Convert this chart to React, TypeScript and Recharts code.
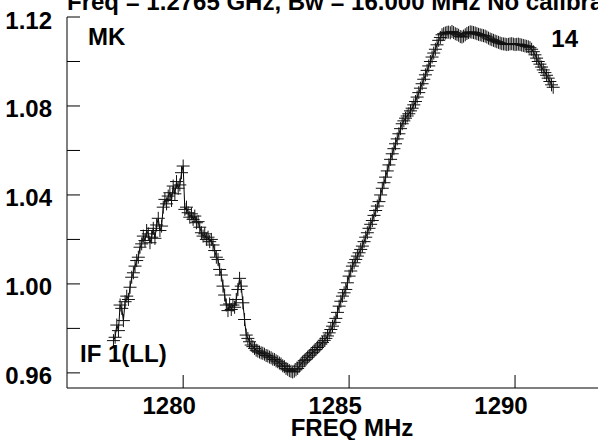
import { LineChart, Line, XAxis, YAxis } from "recharts";

// channel frequencies (MHz)
const FREQ = [
  1277.9, 1277.95, 1278.0, 1278.05, 1278.1, 1278.15, 1278.2, 1278.25, 1278.3, 1278.35, 1278.4, 1278.45, 1278.5, 1278.55, 1278.6, 1278.65, 1278.7, 1278.75, 1278.8, 1278.85,
  1278.9, 1278.95, 1279.0, 1279.05, 1279.1, 1279.15, 1279.2, 1279.25, 1279.3, 1279.35, 1279.4, 1279.45, 1279.5, 1279.55, 1279.6, 1279.65, 1279.7, 1279.75, 1279.8, 1279.85,
  1279.9, 1279.95, 1280.0, 1280.05, 1280.1, 1280.15, 1280.2, 1280.25, 1280.3, 1280.35, 1280.4, 1280.45, 1280.5, 1280.55, 1280.6, 1280.65, 1280.7, 1280.75, 1280.8, 1280.85,
  1280.9, 1280.95, 1281.0, 1281.05, 1281.1, 1281.15, 1281.2, 1281.25, 1281.3, 1281.35, 1281.4, 1281.45, 1281.5, 1281.55, 1281.6, 1281.65, 1281.7, 1281.75, 1281.8, 1281.85,
  1281.9, 1281.95, 1282.0, 1282.05, 1282.1, 1282.15, 1282.2, 1282.25, 1282.3, 1282.35, 1282.4, 1282.45, 1282.5, 1282.55, 1282.6, 1282.65, 1282.7, 1282.75, 1282.8, 1282.85,
  1282.9, 1282.95, 1283.0, 1283.05, 1283.1, 1283.15, 1283.2, 1283.25, 1283.3, 1283.35, 1283.4, 1283.45, 1283.5, 1283.55, 1283.6, 1283.65, 1283.7, 1283.75, 1283.8, 1283.85,
  1283.9, 1283.95, 1284.0, 1284.05, 1284.1, 1284.15, 1284.2, 1284.25, 1284.3, 1284.35, 1284.4, 1284.45, 1284.5, 1284.55, 1284.6, 1284.65, 1284.7, 1284.75, 1284.8, 1284.85,
  1284.9, 1284.95, 1285.0, 1285.05, 1285.1, 1285.15, 1285.2, 1285.25, 1285.3, 1285.35, 1285.4, 1285.45, 1285.5, 1285.55, 1285.6, 1285.65, 1285.7, 1285.75, 1285.8, 1285.85,
  1285.9, 1285.95, 1286.0, 1286.05, 1286.1, 1286.15, 1286.2, 1286.25, 1286.3, 1286.35, 1286.4, 1286.45, 1286.5, 1286.55, 1286.6, 1286.65, 1286.7, 1286.75, 1286.8, 1286.85,
  1286.9, 1286.95, 1287.0, 1287.05, 1287.1, 1287.15, 1287.2, 1287.25, 1287.3, 1287.35, 1287.4, 1287.45, 1287.5, 1287.55, 1287.6, 1287.65, 1287.7, 1287.75, 1287.8, 1287.85,
  1287.9, 1287.95, 1288.0, 1288.05, 1288.1, 1288.15, 1288.2, 1288.25, 1288.3, 1288.35, 1288.4, 1288.45, 1288.5, 1288.55, 1288.6, 1288.65, 1288.7, 1288.75, 1288.8, 1288.85,
  1288.9, 1288.95, 1289.0, 1289.05, 1289.1, 1289.15, 1289.2, 1289.25, 1289.3, 1289.35, 1289.4, 1289.45, 1289.5, 1289.55, 1289.6, 1289.65, 1289.7, 1289.75, 1289.8, 1289.85,
  1289.9, 1289.95, 1290.0, 1290.05, 1290.1, 1290.15, 1290.2, 1290.25, 1290.3, 1290.35, 1290.4, 1290.45, 1290.5, 1290.55, 1290.6, 1290.65, 1290.7, 1290.75, 1290.8, 1290.85,
  1290.9, 1290.95, 1291.0, 1291.05, 1291.1, 1291.15,
];

// bandpass amplitude, IF 1 (LL)
const AMP = [
  0.9745, 0.976, 0.9815, 0.979, 0.9905, 0.989, 0.9835, 0.992, 0.9945, 0.993, 0.9985, 1.003, 1.005, 1.008, 1.0105, 1.012, 1.0165, 1.018, 1.0215, 1.0195,
  1.024, 1.0225, 1.0185, 1.021, 1.025, 1.0205, 1.0265, 1.0295, 1.024, 1.026, 1.0345, 1.038, 1.036, 1.0395, 1.041, 1.0375, 1.044, 1.0405, 1.046, 1.043,
  1.0445, 1.05, 1.053, 1.0335, 1.0345, 1.032, 1.03, 1.0315, 1.029, 1.0305, 1.0275, 1.028, 1.0255, 1.023, 1.0215, 1.0225, 1.02, 1.021, 1.019, 1.02,
  1.0175, 1.015, 1.012, 1.011, 1.0065, 1.004, 0.999, 0.995, 0.9905, 0.988, 0.991, 0.9885, 0.9905, 0.9895, 0.993, 0.9975, 1.0025, 0.999, 0.9915, 0.984,
  0.977, 0.9755, 0.974, 0.9725, 0.9718, 0.971, 0.9702, 0.9698, 0.9694, 0.969, 0.9688, 0.9684, 0.9678, 0.9676, 0.9671, 0.9668, 0.9662, 0.966, 0.9654, 0.965,
  0.9644, 0.964, 0.9632, 0.9628, 0.962, 0.9616, 0.961, 0.9607, 0.9604, 0.9608, 0.9614, 0.962, 0.963, 0.964, 0.9648, 0.9655, 0.9661, 0.967, 0.9677, 0.9685,
  0.9691, 0.9699, 0.9705, 0.9714, 0.9721, 0.973, 0.9737, 0.9746, 0.9755, 0.9766, 0.978, 0.9795, 0.981, 0.9827, 0.9845, 0.9872, 0.99, 0.9922, 0.9945, 0.996,
  0.9975, 1.0005, 1.0035, 1.0058, 1.008, 1.0095, 1.011, 1.0125, 1.014, 1.0155, 1.017, 1.019, 1.021, 1.023, 1.025, 1.0268, 1.0285, 1.0308, 1.033, 1.035,
  1.037, 1.04, 1.043, 1.0455, 1.048, 1.0508, 1.0535, 1.056, 1.0585, 1.0608, 1.063, 1.0652, 1.0675, 1.0698, 1.072, 1.0733, 1.0745, 1.0755, 1.0765, 1.0778,
  1.079, 1.0805, 1.082, 1.084, 1.086, 1.088, 1.09, 1.092, 1.094, 1.096, 1.098, 1.1, 1.102, 1.1038, 1.1055, 1.1075, 1.1095, 1.1108, 1.112, 1.1125,
  1.1128, 1.1131, 1.1132, 1.1129, 1.1135, 1.113, 1.1125, 1.1122, 1.1118, 1.1112, 1.111, 1.1114, 1.112, 1.1126, 1.113, 1.1133, 1.1132, 1.113, 1.1128, 1.1125,
  1.1122, 1.112, 1.1118, 1.1116, 1.1114, 1.111, 1.1105, 1.1101, 1.1098, 1.1095, 1.1092, 1.1089, 1.1086, 1.1083, 1.108, 1.1079, 1.1078, 1.1076, 1.1077, 1.1079,
  1.108, 1.1078, 1.1076, 1.1077, 1.1078, 1.1076, 1.1074, 1.1072, 1.107, 1.1068, 1.1066, 1.1062, 1.1055, 1.1044, 1.103, 1.1015, 1.1, 1.0988, 1.0975, 1.0962,
  1.095, 1.0938, 1.0925, 1.091, 1.0895, 1.0884,
];

const X_TICKS = [1280, 1285, 1290];
const Y_TICKS = [0.96, 0.98, 1.0, 1.02, 1.04, 1.06, 1.08, 1.1, 1.12];
const Y_LABELED = [0.96, 1.0, 1.04, 1.08, 1.12];

const data = FREQ.map((f, i) => ({ f, v: AMP[i] }));

const FONT = "'Liberation Sans', Arial, sans-serif";
const tickStyle = { fontSize: 24, fontWeight: 700, fill: "#000", fontFamily: FONT };

const Plus = (props: any) => {
  const { cx, cy, index } = props;
  if (cx == null || cy == null) return <g key={`p${index}`} />;
  return (
    <path
      key={`p${index}`}
      d={`M${cx - 6.5},${cy}h13M${cx},${cy - 6.5}v13`}
      stroke="#111"
      strokeWidth={1}
      fill="none"
    />
  );
};

const yFmt = (v: number) => (Y_LABELED.some((t) => Math.abs(t - v) < 1e-6) ? v.toFixed(2) : "");

export default function App() {
  const xDomain = [1276.5, 1292.5];
  const yDomain = [0.9532, 1.12];
  return (
    <div style={{ position: "absolute", left: 0, top: 0, width: 598, height: 440, overflow: "hidden", background: "#fff", fontFamily: FONT }}>
      <LineChart width={598} height={440} data={data} margin={{ top: 17, right: 0, bottom: 0, left: 0 }}>
        <XAxis
          xAxisId="b"
          dataKey="f"
          type="number"
          domain={xDomain}
          allowDataOverflow
          ticks={X_TICKS}
          interval={0}
          height={52}
          tickSize={-13}
          tickMargin={22}
          tick={{ ...tickStyle, dx: -14 }}
          axisLine={{ stroke: "#000" }}
          tickLine={{ stroke: "#000" }}
        />
        <XAxis
          xAxisId="t"
          orientation="top"
          type="number"
          domain={xDomain}
          allowDataOverflow
          ticks={X_TICKS}
          interval={0}
          height={0}
          tickSize={-13}
          tick={false}
          axisLine={{ stroke: "#000" }}
          tickLine={{ stroke: "#000" }}
        />
        <YAxis
          yAxisId="l"
          type="number"
          domain={yDomain}
          allowDataOverflow
          ticks={Y_TICKS}
          interval={0}
          width={67}
          tickSize={-13}
          tickMargin={28}
          tick={{ ...tickStyle, dy: 3 }}
          tickFormatter={yFmt}
          axisLine={{ stroke: "#000" }}
          tickLine={{ stroke: "#000" }}
        />
        <YAxis
          yAxisId="r"
          orientation="right"
          type="number"
          domain={yDomain}
          allowDataOverflow
          ticks={Y_TICKS}
          interval={0}
          width={0}
          tickSize={-13}
          tick={false}
          axisLine={{ stroke: "#000" }}
          tickLine={{ stroke: "#000" }}
        />
        <Line
          xAxisId="b"
          yAxisId="l"
          type="linear"
          dataKey="v"
          stroke="#000"
          strokeWidth={1}
          dot={Plus}
          activeDot={false}
          isAnimationActive={false}
        />
      </LineChart>
      <svg width={598} height={440} style={{ position: "absolute", left: 0, top: 0, pointerEvents: "none" }}>
        <g fontFamily={FONT} fontWeight={700} fill="#000">
          <text x={67} y={9.5} fontSize={24}>Freq = 1.2765 GHz, Bw = 16.000 MHz  No calibration</text>
          <text x={88} y={45} fontSize={24}>MK</text>
          <text x={578} y={47} fontSize={24} textAnchor="end">14</text>
          <text x={80} y={362} fontSize={24}>IF 1(LL)</text>
          <text x={352} y={436} fontSize={24} textAnchor="middle">FREQ MHz</text>
        </g>
      </svg>
    </div>
  );
}
